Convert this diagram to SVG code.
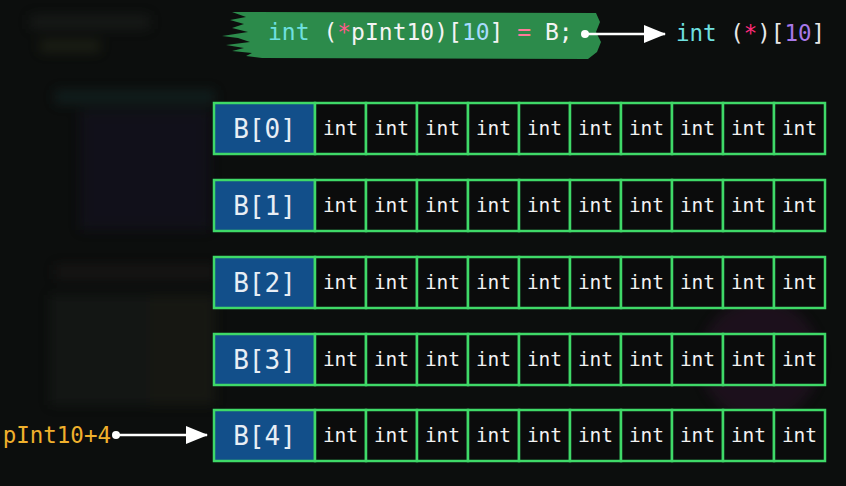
<svg xmlns="http://www.w3.org/2000/svg" width="846" height="486" viewBox="0 0 846 486">
<defs>
<style>
.mono{font-family:"DejaVu Sans Mono","Liberation Mono",monospace;}
.cell{fill:#0b0c0c;stroke:#3fd968;stroke-width:2.5;}
.head{fill:#124f8a;stroke:#3fd968;stroke-width:2.5;}
.it{font-size:19.5px;fill:#f2f2f2;text-anchor:middle;}
.bl{font-size:26px;fill:#e8eef5;text-anchor:middle;}
.conn{stroke:#ffffff;stroke-width:2.5;fill:none;}
</style>
<marker id="ah" viewBox="0 0 22 18" refX="21" refY="9" markerWidth="22" markerHeight="18" markerUnits="userSpaceOnUse" orient="auto">
<path d="M0,0 L22,9 L0,18 Z" fill="#ffffff"/>
</marker>
<filter id="blur" x="-20%" y="-20%" width="140%" height="140%"><feGaussianBlur stdDeviation="6"/></filter>
<g id="row">
<rect class="head" x="214" y="0" width="101" height="51"/>
<rect class="cell" x="315" y="0" width="51" height="51"/>
<rect class="cell" x="366" y="0" width="51" height="51"/>
<rect class="cell" x="417" y="0" width="51" height="51"/>
<rect class="cell" x="468" y="0" width="51" height="51"/>
<rect class="cell" x="519" y="0" width="51" height="51"/>
<rect class="cell" x="570" y="0" width="51" height="51"/>
<rect class="cell" x="621" y="0" width="51" height="51"/>
<rect class="cell" x="672" y="0" width="51" height="51"/>
<rect class="cell" x="723" y="0" width="51" height="51"/>
<rect class="cell" x="774" y="0" width="51" height="51"/>
<g class="mono it">
<text x="340.5" y="32">int</text><text x="391.5" y="32">int</text><text x="442.5" y="32">int</text><text x="493.5" y="32">int</text><text x="544.5" y="32">int</text><text x="595.5" y="32">int</text><text x="646.5" y="32">int</text><text x="697.5" y="32">int</text><text x="748.5" y="32">int</text><text x="799.5" y="32">int</text>
</g>
</g>
</defs>
<rect width="846" height="486" fill="#0c0e0d"/>
<g filter="url(#blur)" opacity="0.35">
<rect x="30" y="15" width="120" height="14" fill="#2a2d2c"/>
<rect x="40" y="40" width="60" height="12" fill="#3a4020"/>
<rect x="55" y="90" width="160" height="14" fill="#1e3a3a"/>
<rect x="80" y="110" width="130" height="120" fill="#1a1830"/>
<rect x="55" y="265" width="160" height="14" fill="#2a2020"/>
<rect x="50" y="295" width="100" height="110" fill="#222523"/>
<rect x="150" y="295" width="65" height="110" fill="#2c2a1c"/>
<circle cx="760" cy="360" r="60" fill="#3a1838"/>
</g>
<g id="code">
<path d="M232,12 L596,13 L600,22 L596,32 L601,42 L597,52 L588,59 L262,58 L246,56 L252,53 L232,51 L244,48 L226,45 L250,42 L238,38 L222,36 L248,32 L232,28 L244,24 L230,20 L246,17 Z" fill="#2c8b4b"/>
<text class="mono" x="268" y="40" font-size="23"><tspan fill="#6fe0e0">int</tspan><tspan fill="#f4f4f4"> (</tspan><tspan fill="#ff5a8a">*</tspan><tspan fill="#f4f4f4">pInt10)[</tspan><tspan fill="#a8dcff">10</tspan><tspan fill="#f4f4f4">] </tspan><tspan fill="#ff7a9a">=</tspan><tspan fill="#f4f4f4"> B;</tspan></text>
</g>
<g id="type">
<text class="mono" x="676" y="41" font-size="22.5"><tspan fill="#6fe0e0">int</tspan><tspan fill="#e8e8e8"> (</tspan><tspan fill="#ff2a7a">*</tspan><tspan fill="#e8e8e8">)[</tspan><tspan fill="#a878e8">10</tspan><tspan fill="#e8e8e8">]</tspan></text>
</g>
<g id="ptr">
<text class="mono" x="111" y="443" font-size="22.5" fill="#f0b02c" text-anchor="end">pInt10+4</text>
</g>
<g id="b0" transform="translate(0,103)"><use href="#row"/><text class="mono bl" x="264.5" y="35">B[0]</text></g>
<g id="b1" transform="translate(0,180)"><use href="#row"/><text class="mono bl" x="264.5" y="35">B[1]</text></g>
<g id="b2" transform="translate(0,257)"><use href="#row"/><text class="mono bl" x="264.5" y="35">B[2]</text></g>
<g id="b3" transform="translate(0,334)"><use href="#row"/><text class="mono bl" x="264.5" y="35">B[3]</text></g>
<g id="b4" transform="translate(0,410)"><use href="#row"/><text class="mono bl" x="264.5" y="35">B[4]</text></g>
<g id="connectors">
<circle cx="585" cy="34" r="4" fill="#ffffff"/>
<line class="conn" x1="585" y1="34" x2="665" y2="34" marker-end="url(#ah)"/>
<circle cx="116" cy="435" r="4" fill="#ffffff"/>
<line class="conn" x1="116" y1="435" x2="207" y2="435" marker-end="url(#ah)"/>
</g>
</svg>
